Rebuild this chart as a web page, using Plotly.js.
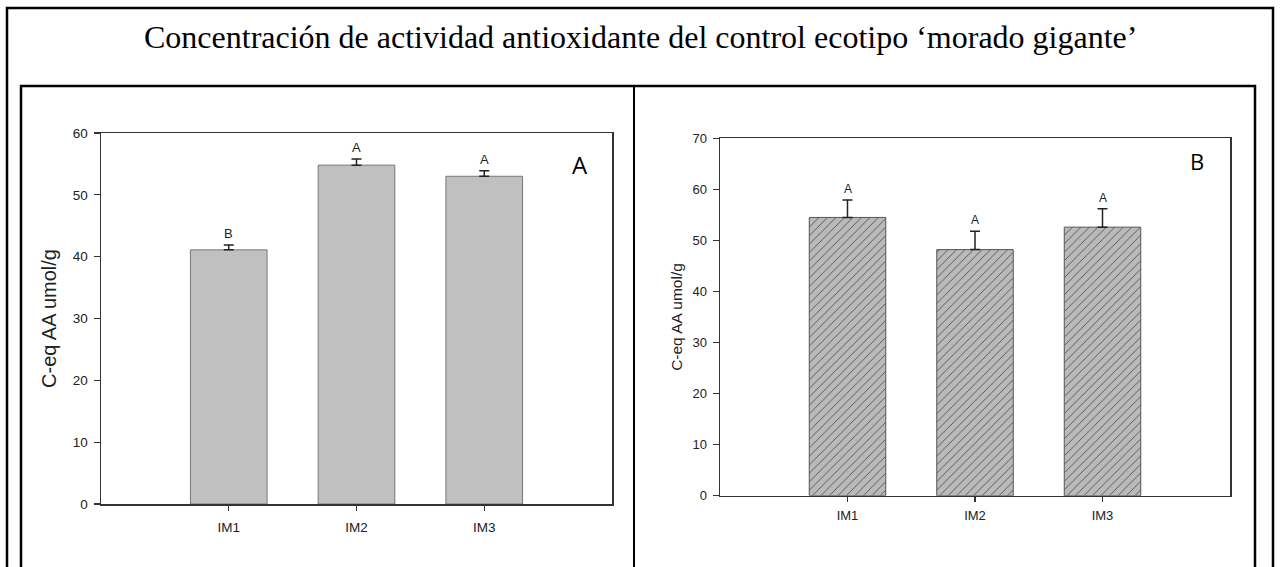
<!DOCTYPE html>
<html>
<head>
<meta charset="utf-8">
<script src="https://cdn.plot.ly/plotly-3.0.1.min.js"></script>
<style>
  html, body { margin: 0; padding: 0; background: #fff; }
  #chart { width: 1280px; height: 567px; }
</style>
</head>
<body>
<div id="chart"></div>
<script>
// ---- data ----
const categories = ["IM1", "IM2", "IM3"];
const valuesA = [41.1, 54.8, 53.0];
const errorsA = [0.8, 1.0, 0.9];
const lettersA = ["B", "A", "A"];
const valuesB = [54.5, 48.2, 52.6];
const errorsB = [3.4, 3.6, 3.6];
const lettersB = ["A", "A", "A"];
const yTicksA = [0, 10, 20, 30, 40, 50, 60];
const yTicksB = [0, 10, 20, 30, 40, 50, 60, 70];
const mainTitle = "Concentración de actividad antioxidante del control ecotipo ‘morado gigante’";
const yTitle = "C-eq AA umol/g";

const W = 1280, H = 567;
const px = v => v / W;
const py = v => 1 - v / H;

const zeros = categories.map(() => 0);

const traceA = {
  type: "bar", x: categories, y: valuesA, xaxis: "x", yaxis: "y",
  width: 0.6,
  marker: { color: "#c0c0c0", line: { color: "#777", width: 1 } },
  error_y: { type: "data", array: errorsA, arrayminus: zeros, symmetric: false,
             color: "#222", thickness: 1.5, width: 5 },
  hoverinfo: "none", showlegend: false
};
const traceB = {
  type: "bar", x: categories, y: valuesB, xaxis: "x2", yaxis: "y2",
  width: 0.6,
  marker: { color: "#bababa", line: { color: "#555", width: 1 },
            pattern: { shape: "/", bgcolor: "#bababa", fgcolor: "#505050", size: 6, solidity: 0.15 } },
  error_y: { type: "data", array: errorsB, arrayminus: zeros, symmetric: false,
             color: "#222", thickness: 1.5, width: 5 },
  hoverinfo: "none", showlegend: false
};

const fam = "Liberation Sans, Arial, sans-serif";
const axisFont = { family: fam, size: 13.5, color: "#222" };
const axisFontB = { family: fam, size: 13, color: "#222" };

function xAxis(domain, anchor, font, standoff) {
  return {
    domain: domain, anchor: anchor, range: [-1, 3], type: "category",
    showline: true, linecolor: "#333", linewidth: 1.5, mirror: true,
    ticks: "outside", ticklen: 5, tickwidth: 1.2, tickcolor: "#333",
    ticklabelstandoff: standoff,
    showgrid: false, zeroline: false, tickfont: font, fixedrange: true
  };
}
function yAxis(domain, anchor, range, tickvals, font, titleSize, titleStandoff) {
  return {
    domain: domain, anchor: anchor, range: range, tickvals: tickvals,
    showline: true, linecolor: "#333", linewidth: 1.5, mirror: true,
    ticks: "outside", ticklen: 6, tickwidth: 1.2, tickcolor: "#333",
    ticklabelstandoff: 3,
    showgrid: false, zeroline: false, tickfont: font, fixedrange: true,
    title: { text: yTitle, font: { family: fam, size: titleSize, color: "#222" }, standoff: titleStandoff }
  };
}

const annotations = [];
categories.forEach((c, i) => {
  annotations.push({ xref: "x", yref: "y", x: c, y: valuesA[i] + errorsA[i], text: lettersA[i],
    showarrow: false, yanchor: "bottom", yshift: 2,
    font: { family: fam, size: 13, color: "#222" } });
  annotations.push({ xref: "x2", yref: "y2", x: c, y: valuesB[i] + errorsB[i], text: lettersB[i],
    showarrow: false, yanchor: "bottom", yshift: 2,
    font: { family: fam, size: 12, color: "#222" } });
});
annotations.push({ xref: "x domain", yref: "y domain", x: 0.937, y: 0.916, text: "A", showarrow: false,
  xanchor: "center", yanchor: "middle", font: { family: "Open Sans, Liberation Sans, sans-serif", size: 24, color: "#000" } });
annotations.push({ xref: "x2 domain", yref: "y2 domain", x: 0.935, y: 0.937, text: "B", showarrow: false,
  xanchor: "center", yanchor: "middle", font: { family: "Open Sans, Liberation Sans, sans-serif", size: 22, color: "#000" } });
annotations.push({ xref: "paper", yref: "paper", x: 0.5, y: py(37), text: mainTitle, showarrow: false,
  xanchor: "center", yanchor: "middle", font: { family: "Liberation Serif, Times New Roman, serif", size: 32, color: "#000" } });

const shapes = [
  { type: "rect", xref: "paper", yref: "paper", x0: px(7), x1: px(1273), y0: py(600), y1: py(8),
    line: { color: "#000", width: 2.5 } },
  { type: "rect", xref: "paper", yref: "paper", x0: px(21), x1: px(1255), y0: py(600), y1: py(86),
    line: { color: "#000", width: 2.5 } },
  { type: "line", xref: "paper", yref: "paper", x0: px(634), x1: px(634), y0: py(600), y1: py(86),
    line: { color: "#000", width: 2 } }
];

const layout = {
  width: W, height: H,
  margin: { l: 0, r: 0, t: 0, b: 0 },
  paper_bgcolor: "#fff", plot_bgcolor: "#fff",
  showlegend: false,
  xaxis: xAxis([px(101), px(612)], "y", axisFont, 5),
  yaxis: yAxis([py(504), py(133)], "x", [0, 60], yTicksA, axisFont, 20, 11),
  xaxis2: xAxis([px(720), px(1230)], "y2", axisFontB, 2),
  yaxis2: yAxis([py(495.7), py(138.3)], "x2", [0, 70], yTicksB, axisFontB, 15.5, 6),
  annotations: annotations,
  shapes: shapes
};

Plotly.newPlot("chart", [traceA, traceB], layout, { displayModeBar: false, staticPlot: true });
</script>
</body>
</html>
